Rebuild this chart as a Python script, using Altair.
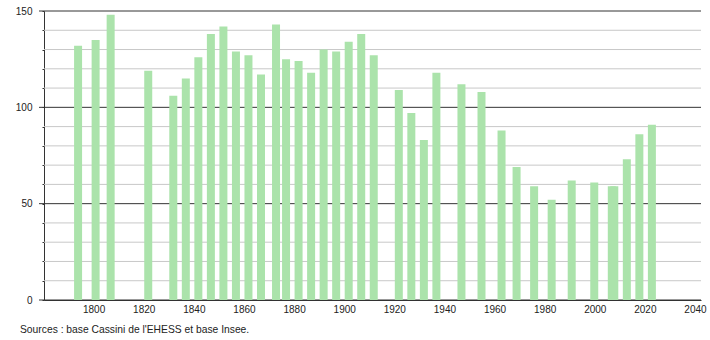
import altair as alt
import pandas as pd

years = [1793, 1800, 1806, 1821, 1831, 1836, 1841, 1846, 1851, 1856,
         1861, 1866, 1872, 1876, 1881, 1886, 1891, 1896, 1901, 1906,
         1911, 1921, 1926, 1931, 1936, 1946, 1954, 1962, 1968, 1975,
         1982, 1990, 1999, 2006, 2007, 2012, 2017, 2022]
population = [132, 135, 148, 119, 106, 115, 126, 138, 142, 129,
              127, 117, 143, 125, 124, 118, 130, 129, 134, 138,
              127, 109, 97, 83, 118, 112, 108, 88, 69, 59,
              52, 62, 61, 59, 59, 73, 86, 91]
x_ticks = list(range(1800, 2041, 20))
y_minor = [v for v in range(10, 150, 10) if v % 50 != 0]
y_major = [0, 50, 100, 150]
y_ticks = list(range(0, 151, 10))
caption = "Sources : base Cassini de l'EHESS et base Insee."

W, H = 657, 289
FONT = "Liberation Sans"

df = pd.DataFrame({"year": years, "pop": population})
xs = alt.Scale(domain=[1779.4, 2041.6], nice=False, zero=False, padding=0)
ys = alt.Scale(domain=[0, 150], nice=False, padding=0)


def yaxis():
    return alt.Axis(values=y_ticks, title=None, grid=False,
                    tickSize=2, tickColor="#333333",
                    domainColor="#333333", labelPadding=10,
                    labelFontSize=10, labelFont=FONT,
                    labelColor="#222222", labelOverlap=False,
                    labelFlush=False,
                    labelExpr="datum.value % 50 === 0 ? datum.label : ''")


minor = alt.Chart(pd.DataFrame({"v": y_minor})).mark_rule(
    color="#c8c8c8", strokeWidth=1
).encode(y=alt.Y("v:Q", scale=ys, axis=yaxis()), x=alt.value(0), x2=alt.value(W))

major = alt.Chart(pd.DataFrame({"v": y_major})).mark_rule(
    color="#333333", strokeWidth=1
).encode(y=alt.Y("v:Q", scale=ys, axis=yaxis()), x=alt.value(0), x2=alt.value(W))

major_ticks = alt.Chart(pd.DataFrame({"v": y_major})).mark_rule(
    color="#333333", strokeWidth=1
).encode(y=alt.Y("v:Q", scale=ys, axis=yaxis()), x=alt.value(-5), x2=alt.value(0))

bars = alt.Chart(df).mark_bar(color="#abe3ab", size=8).encode(
    x=alt.X("year:Q", scale=xs,
            axis=alt.Axis(values=x_ticks, format="d", title=None, grid=False,
                          ticks=False, labelPadding=4, labelFontSize=10,
                          labelFont=FONT, labelColor="#222222",
                          domainColor="#333333", labelFlush=False,
                          labelOverlap=False, labelOffset=-2)),
    y=alt.Y("pop:Q", scale=ys, axis=yaxis()),
)

cap = alt.Chart(pd.DataFrame({"t": [caption]})).mark_text(
    align="left", baseline="middle", fontSize=10.3, font=FONT, color="#222222"
).encode(text="t:N", x=alt.value(-24), y=alt.value(319))

chart = alt.layer(minor, major, major_ticks, bars, cap).properties(
    width=W, height=H, autosize="none",
    padding={"left": 44, "top": 11, "right": 9, "bottom": 40},
    background="white",
).configure_view(stroke=None)

chart.save("out.html", embed_options={"renderer": "svg", "actions": False})
